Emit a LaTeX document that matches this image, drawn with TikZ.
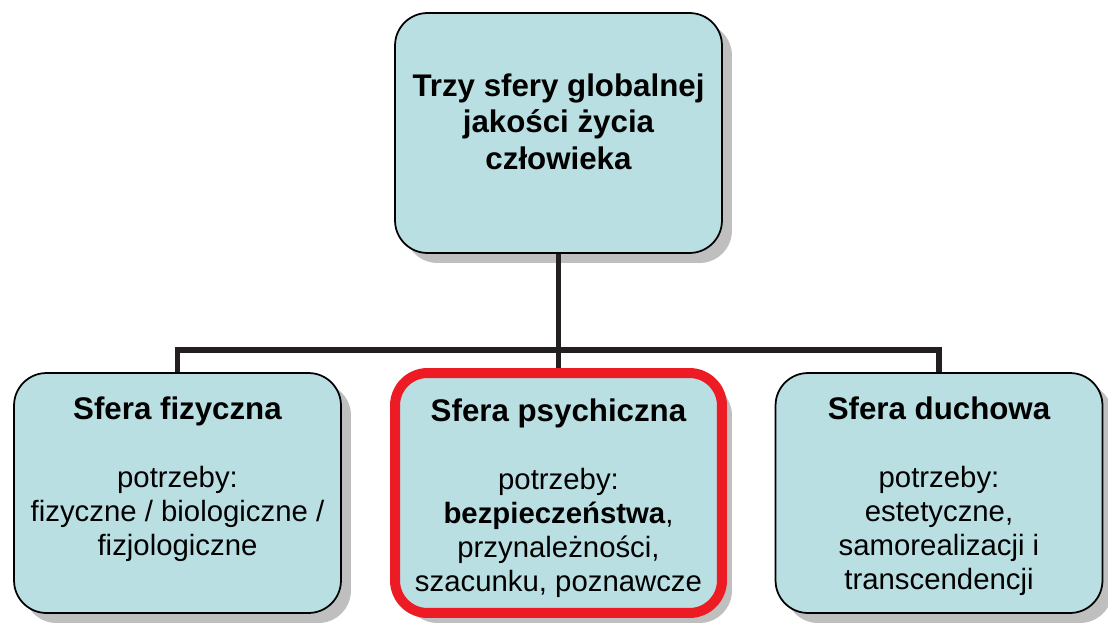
\documentclass[tikz,border=0pt]{standalone}
\usepackage{fontspec}
\setmainfont{Liberation Sans}
\usepackage{tikz}
\usetikzlibrary{positioning,shadows}

\definecolor{boxfill}{RGB}{185,223,226}
\definecolor{linkgray}{RGB}{35,31,32}
\definecolor{alertred}{RGB}{237,28,36}

\tikzset{
    sfera/.style={rectangle, rounded corners=0.65cm, draw=black, line width=1pt, fill=boxfill,
        minimum width=6.54cm, minimum height=4.8cm,
        drop shadow={shadow xshift=0.2cm, shadow yshift=-0.2cm, fill=black!25, opacity=1}},
    sferatext/.style={anchor=north, inner sep=0pt, align=center, font=\fontsize{16.7}{19.4}\selectfont},
    link/.style={draw=linkgray, line width=3.4pt}
}

\begin{document}
\begin{tikzpicture}[x=0.02cm, y=-0.02cm]
    \useasboundingbox (0,0) rectangle (1108,629);

    % top box
    \node [sfera] (top) at (558.5,133) {};
    \node [anchor=north, inner sep=0pt, align=center, font=\fontsize{17.8}{21}\selectfont\bfseries] (toptext) at (558.5,73) {
        Trzy sfery globalnej\\
        jakości życia\\
        człowieka
    };

    % three spheres
    \node [sfera] (fizyczna) at (177.5,493) {};
    \node [sfera, draw=alertred, line width=5.7pt] (psychiczna) at (558.5,493) {};
    \node [sfera] (duchowa) at (939,493) {};

    \node [sferatext] (fizycznatext) at (177.5,396) {
        {\fontsize{17.8}{19.4}\selectfont\bfseries Sfera fizyczna}\\[19.4pt]
        potrzeby:\\
        fizyczne / biologiczne /\\
        fizjologiczne
    };
    \node [sferatext] (psychicznatext) at (558.5,398) {
        {\fontsize{17.8}{19.4}\selectfont\bfseries Sfera psychiczna}\\[19.4pt]
        potrzeby:\\
        \textbf{bezpieczeństwa},\\
        przynależności,\\
        szacunku, poznawcze
    };
    \node [sferatext] (duchowatext) at (939,396) {
        {\fontsize{17.8}{19.4}\selectfont\bfseries Sfera duchowa}\\[19.4pt]
        potrzeby:\\
        estetyczne,\\
        samorealizacji i\\
        transcendencji
    };

    % connectors
    \coordinate (hub) at (558.5,350);
    \draw [link] (top.south) -- (hub);
    \draw [link] (hub) -- (psychiczna.north);
    \draw [link] (fizyczna.north) |- (hub) -| (duchowa.north);
\end{tikzpicture}
\end{document}
